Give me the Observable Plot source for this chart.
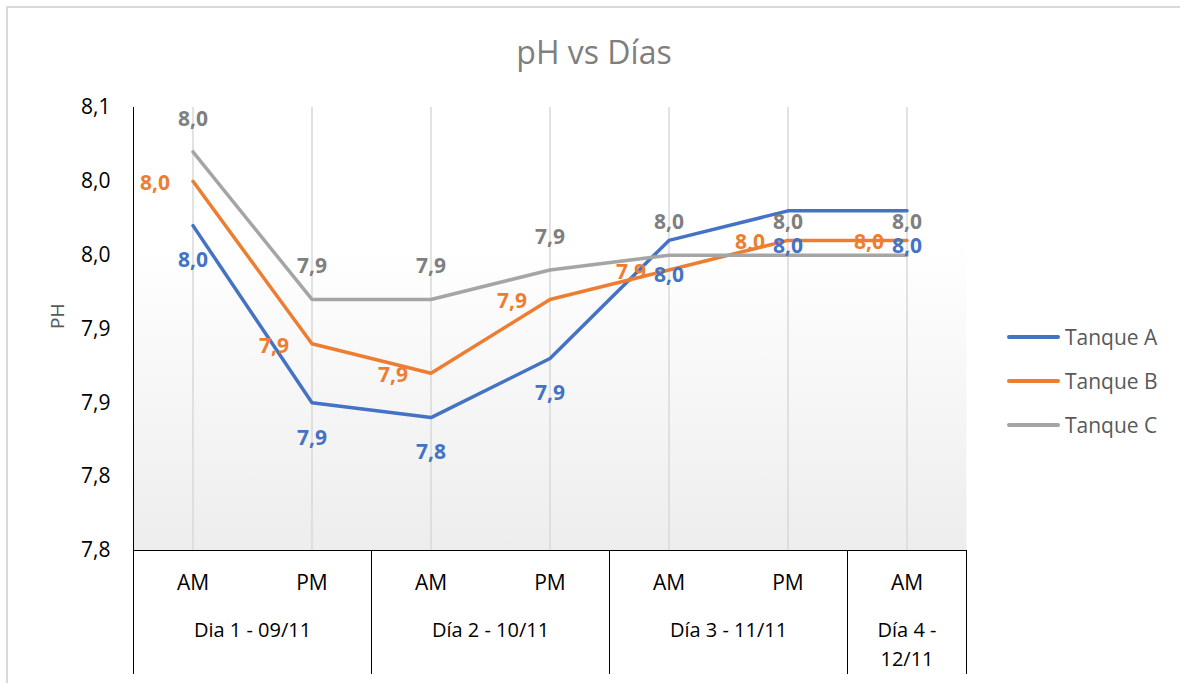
<!DOCTYPE html>
<html>
<head>
<meta charset="utf-8">
<script src="https://cdn.jsdelivr.net/npm/d3@7"></script>
<script src="https://cdn.jsdelivr.net/npm/@observablehq/plot@0.6"></script>
<style>
  html, body { margin: 0; padding: 0; background: #fff; }
  #wrap { position: relative; width: 1180px; height: 683px; overflow: hidden; font-family: "Open Sans", sans-serif; }
  #border { position: absolute; left: 6px; top: 6px; width: 1200px; height: 700px; border: 2px solid #d9d9d9; pointer-events: none; }
  #title { position: absolute; left: 8px; top: 30px; width: 1172px; text-align: center; font-size: 32px; color: #7f7f7f; line-height: 44px; }
  #legend { position: absolute; left: 1007px; top: 315px; }
  .li { display: flex; align-items: center; height: 44px; }
  .sw { width: 53px; height: 4px; border-radius: 2px; margin-right: 5px; }
  .lt { font-size: 21px; color: #595959; }
  #chart { position: absolute; left: 0; top: 0; }
</style>
</head>
<body>
<div id="wrap">
  <div id="chart"></div>
  <div id="title"></div>
  <div id="legend"></div>
  <div id="border"></div>
</div>
<script>
// ---- data ----
const slots = ["AM", "PM", "AM", "PM", "AM", "PM", "AM"];
const days = ["Dia 1 - 09/11", "Día 2 - 10/11", "Día 3 - 11/11", "Día 4 -\n12/11"];
const dayStart = [0, 2, 4, 6];
const dayEnd = [1, 3, 5, 6];
const seriesNames = ["Tanque A", "Tanque B", "Tanque C"];
const seriesColors = ["#4472C4", "#ED7D31", "#A5A5A5"];
const labelColors = ["#4472C4", "#ED7D31", "#7F7F7F"];
const tanqueA = [7.97, 7.85, 7.84, 7.88, 7.96, 7.98, 7.98];
const tanqueB = [8.00, 7.89, 7.87, 7.92, 7.94, 7.96, 7.96];
const tanqueC = [8.02, 7.92, 7.92, 7.94, 7.95, 7.95, 7.95];
const yTicks = [7.75, 7.80, 7.85, 7.90, 7.95, 8.00, 8.05];
const titleText = "pH vs Días";
const yTitle = "PH";

const fmt = v => (Math.round(v * 10 + 1e-6) / 10).toFixed(1).replace(".", ",");

const allSeries = [tanqueA, tanqueB, tanqueC];
const rows = [];
allSeries.forEach((vals, s) => vals.forEach((v, i) => rows.push({ i, v, s: seriesNames[s] })));
const rowsOf = name => rows.filter(d => d.s === name);

const slotRows = slots.map((t, i) => ({ i, t }));
const dayRows = days.map((t, k) => ({ c: (dayStart[k] + dayEnd[k]) / 2, t }));
const seps = [...dayStart.map(s => s - 0.5), dayEnd[dayEnd.length - 1] + 0.5];
const xMin = -0.5, xMax = slots.length - 0.5;
const yMin = yTicks[0], yMax = yTicks[yTicks.length - 1];

const svg = Plot.plot({
  width: 1180,
  height: 683,
  marginLeft: 133,
  marginRight: 214,
  marginTop: 107,
  marginBottom: 133,
  style: { fontFamily: "Open Sans, sans-serif", background: "transparent", overflow: "visible" },
  x: { domain: [xMin, xMax], axis: null },
  y: { domain: [yMin, yMax], axis: null },
  color: { domain: seriesNames, range: seriesColors },
  marks: [
    Plot.frame({ fill: "#f4f4f4" }),
    Plot.ruleX(slotRows, { x: "i", stroke: "#d9d9d9", strokeWidth: 1.5 }),
    Plot.text(yTicks, { y: d => d, text: d => fmt(d), frameAnchor: "left", dx: -23, textAnchor: "end", fontSize: 21, fill: "#000" }),
    Plot.ruleX([xMin], { stroke: "#000", strokeWidth: 1 }),
    Plot.ruleY([yMin], { x1: xMin, x2: xMax, stroke: "#000", strokeWidth: 1 }),
    Plot.ruleX(seps, { y1: yMin, y2: yMin, insetBottom: -124, stroke: "#000", strokeWidth: 1 }),
    Plot.text(slotRows, { x: "i", text: "t", frameAnchor: "bottom", dy: 39, fontSize: 21, fill: "#000" }),
    Plot.text(dayRows, { x: "c", text: "t", frameAnchor: "bottom", lineAnchor: "top", lineHeight: 1.45, dy: 66, fontSize: 20, fill: "#000" }),
    Plot.text([yTitle], { frameAnchor: "left", dx: -76, rotate: -90, fontSize: 19, fill: "#595959" }),
    ...seriesNames.map((n, s) => Plot.line(rowsOf(n), { x: "i", y: "v", stroke: seriesColors[s], strokeWidth: 3.5, strokeLinejoin: "round", strokeLinecap: "round" })),
    Plot.text(rowsOf("Tanque A"), { x: "i", y: "v", text: d => fmt(d.v), dy: 35, fontSize: 21, fontWeight: "bold", fill: labelColors[0] }),
    Plot.text(rowsOf("Tanque B"), { x: "i", y: "v", text: d => fmt(d.v), dx: -23, dy: 2, textAnchor: "end", fontSize: 21, fontWeight: "bold", fill: labelColors[1] }),
    Plot.text(rowsOf("Tanque C"), { x: "i", y: "v", text: d => fmt(d.v), dy: -33, fontSize: 21, fontWeight: "bold", fill: labelColors[2] })
  ]
});

// gradient background for the plot area
const ns = "http://www.w3.org/2000/svg";
const defs = document.createElementNS(ns, "defs");
defs.innerHTML = '<linearGradient id="bgGrad" x1="0" y1="0" x2="0" y2="1"><stop offset="0.3" stop-color="#ffffff"/><stop offset="1" stop-color="#ededed"/></linearGradient>';
svg.insertBefore(defs, svg.firstChild);
svg.querySelectorAll('[aria-label="frame"]').forEach(el => {
  el.setAttribute("fill", "url(#bgGrad)");
  el.querySelectorAll("rect").forEach(r => r.setAttribute("fill", "url(#bgGrad)"));
});
document.getElementById("chart").appendChild(svg);

document.getElementById("title").textContent = titleText;
const legend = document.getElementById("legend");
seriesNames.forEach((n, s) => {
  const li = document.createElement("div");
  li.className = "li";
  const sw = document.createElement("div");
  sw.className = "sw";
  sw.style.background = seriesColors[s];
  const lt = document.createElement("span");
  lt.className = "lt";
  lt.textContent = n;
  li.appendChild(sw);
  li.appendChild(lt);
  legend.appendChild(li);
});
</script>
</body>
</html>
